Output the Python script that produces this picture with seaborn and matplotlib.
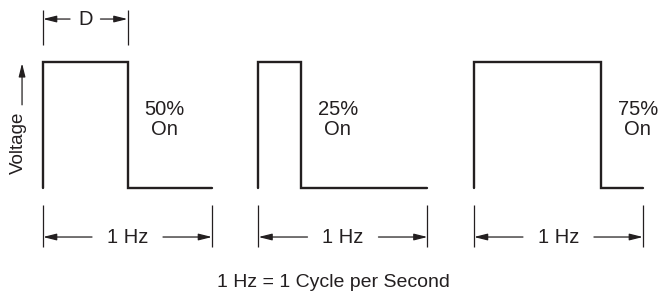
import pandas as pd
import seaborn as sns
import matplotlib.pyplot as plt

# waveform data: one cycle (1 s) per pulse train
duty_cycles = [0.50, 0.25, 0.75]
duty_labels = ["50%\nOn", "25%\nOn", "75%\nOn"]
period_labels = ["1 Hz", "1 Hz", "1 Hz"]
cycle_starts = [0.0, 1.275, 2.55]
low_level = 0
high_level = 1
width_label = "D"
axis_label = "Voltage"
caption = "1 Hz = 1 Cycle per Second"

INK = "#231f20"
ARROW = dict(arrowstyle="-|>,head_length=0.8,head_width=0.2", color=INK,
             lw=0.9, shrinkA=0, shrinkB=0, mutation_scale=10)


def build_waves():
    """Turn each duty cycle into the corner points of its square wave."""
    rows = []
    for i, (start, duty) in enumerate(zip(cycle_starts, duty_cycles)):
        ts = [start, start, start + duty, start + duty, start + 1]
        vs = [low_level, high_level, high_level, low_level, low_level]
        for t, v in zip(ts, vs):
            rows.append({"wave": i, "t": t, "v": v})
    return pd.DataFrame(rows)


def dimension(ax, x0, x1, y, ytop, ybot, label, gap):
    """Draws a dimension line with end ticks and a label in the middle."""
    ax.vlines([x0, x1], ybot, ytop, color=INK, lw=0.9)
    mid = (x0 + x1) / 2
    ax.annotate("", xy=(x0, y), xytext=(mid - gap, y), arrowprops=ARROW)
    ax.annotate("", xy=(x1, y), xytext=(mid + gap, y), arrowprops=ARROW)
    ax.text(mid, y, label, ha="center", va="center", fontsize=14.5,
            color=INK)


sns.set_theme(style="white")
plt.rcParams["font.family"] = ["Liberation Sans", "DejaVu Sans"]

fig = plt.figure(figsize=(6.69, 2.91), dpi=100)
ax = fig.add_axes([0, 0, 1, 1])
waves = build_waves()
sns.lineplot(data=waves, x="t", y="v", units="wave", estimator=None,
             sort=False, color=INK, linewidth=1.7, solid_joinstyle="miter",
             ax=ax)

# duty labels next to each falling edge
for start, duty, label in zip(cycle_starts, duty_cycles, duty_labels):
    ax.text(start + duty + 0.22, 0.545, label, ha="center", va="center",
            fontsize=14.5, color=INK, linespacing=1.1)

# period dimension under every wave
for start, label in zip(cycle_starts, period_labels):
    dimension(ax, start, start + 1, -0.389, -0.135, -0.468, label, 0.21)

# pulse width D over the first wave
dimension(ax, cycle_starts[0], cycle_starts[0] + duty_cycles[0], 1.341,
          1.413, 1.135, width_label, 0.09)

# voltage axis label with upward arrow
ax.text(-0.147, 0.36, axis_label, rotation=90, ha="center", va="center",
        fontsize=13.5, color=INK)
ax.annotate("", xy=(-0.124, 0.99), xytext=(-0.124, 0.66), arrowprops=ARROW)

ax.text(1.72, -0.75, caption, ha="center", va="center", fontsize=14,
        color=INK)

ax.set_xlim(-43 / 169, 626 / 169)
ax.set_ylim(-103 / 126, 188 / 126)
ax.set_axis_off()
fig.savefig("out.png", dpi=100)
